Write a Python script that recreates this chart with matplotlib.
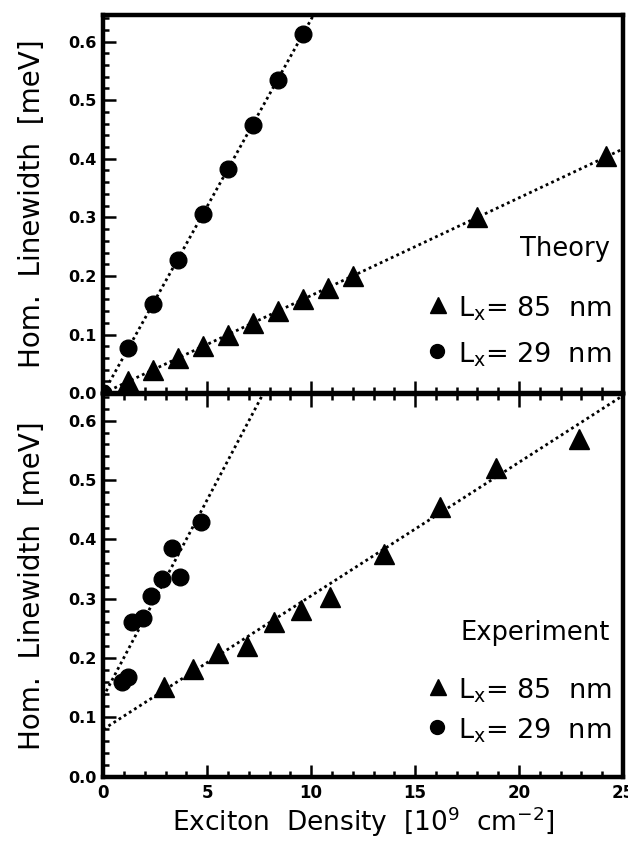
import numpy as np
import matplotlib
matplotlib.use("Agg")
import matplotlib.pyplot as plt
from matplotlib.ticker import MultipleLocator

# Theory (upper panel)
th_x_85 = [1.2, 2.4, 3.6, 4.8, 6.0, 7.2, 8.4, 9.6, 10.8, 12.0, 18.0, 24.2]
th_y_85 = [0.02, 0.04, 0.06, 0.08, 0.10, 0.12, 0.14, 0.16, 0.18, 0.20, 0.30, 0.405]
th_x_29 = [0.0, 1.2, 2.4, 3.6, 4.8, 6.0, 7.2, 8.4, 9.6]
th_y_29 = [0.0, 0.077, 0.152, 0.228, 0.305, 0.382, 0.458, 0.535, 0.613]

# Experiment (lower panel)
ex_x_85 = [2.9, 4.3, 5.5, 6.9, 8.2, 9.5, 10.9, 13.5, 16.2, 18.9, 22.9]
ex_y_85 = [0.151, 0.182, 0.208, 0.221, 0.260, 0.281, 0.303, 0.376, 0.454, 0.521, 0.570]
ex_x_29 = [0.9, 1.2, 1.4, 1.9, 2.3, 2.8, 3.3, 3.7, 4.7]
ex_y_29 = [0.160, 0.168, 0.260, 0.268, 0.305, 0.334, 0.385, 0.337, 0.430]

# linear fits drawn as dotted lines (intercept, slope)
th_fit_85 = (0.0, 0.01667)
th_fit_29 = (0.0, 0.0638)
ex_fit_85 = (0.08, 0.0225)
ex_fit_29 = (0.135, 0.0664)

xmin, xmax = 0, 25
ymin, ymax = 0, 0.645

fig = plt.figure(figsize=(6.28, 8.42), dpi=100)
ax_top = fig.add_axes([0.1645, 0.533, 0.8275, 0.449])
ax_bot = fig.add_axes([0.1645, 0.0775, 0.8275, 0.4545])

lab_font = "DejaVu Sans"
tick_font = "DejaVu Sans"
dots = (0, (1.0, 1.2))


def style_axis(ax, top_ticks):
    ax.set_xlim(xmin, xmax)
    ax.set_ylim(ymin, ymax)
    for s in ax.spines.values():
        s.set_linewidth(3.2)
    ax.xaxis.set_major_locator(MultipleLocator(5))
    ax.xaxis.set_minor_locator(MultipleLocator(1))
    ax.yaxis.set_major_locator(MultipleLocator(0.1))
    ax.yaxis.set_minor_locator(MultipleLocator(0.02))
    ax.tick_params(which="both", direction="in", top=top_ticks, right=False,
                   width=1.8, color="black")
    ax.tick_params(which="major", length=9)
    ax.tick_params(which="minor", length=4.5)
    ax.tick_params(axis="y", labelsize=11.5, pad=5)
    ax.tick_params(axis="x", labelsize=12, pad=5)
    ax.yaxis.set_major_formatter(plt.FuncFormatter(lambda v, p: f"{v:.1f}"))
    for t in ax.get_xticklabels() + ax.get_yticklabels():
        t.set_fontfamily(tick_font)
        t.set_fontweight("bold")
    ax.set_ylabel("Hom.  Linewidth  [meV]", fontsize=20, fontfamily=lab_font,
                  labelpad=16)


def draw_panel(ax, x85, y85, x29, y29, fit85, fit29):
    xs = np.array([xmin, xmax])
    ax.plot(xs, fit85[0] + fit85[1] * xs, color="black", lw=2.0, ls=dots)
    ax.plot(xs, fit29[0] + fit29[1] * xs, color="black", lw=2.0, ls=dots)
    ax.plot(x85, y85, ls="none", marker="^", ms=14.5, color="black", zorder=3)
    ax.plot(x29, y29, ls="none", marker="o", ms=12, color="black", zorder=3)


def draw_key(ax, title, y_title, y1, y2):
    ax.text(0.975, y_title, title, transform=ax.transAxes, ha="right",
            va="baseline", fontsize=18.5, fontfamily=lab_font)
    ax.plot([0.645], [y1 + 0.03], transform=ax.transAxes, marker="^", ms=12,
            color="black", clip_on=False)
    ax.plot([0.643], [y2 + 0.03], transform=ax.transAxes, marker="o", ms=10,
            color="black", clip_on=False)
    ax.text(0.683, y1, r"$\mathregular{L_x}$= 85  nm", transform=ax.transAxes,
            ha="left", va="baseline", fontsize=19.5, fontfamily=lab_font)
    ax.text(0.683, y2, r"$\mathregular{L_x}$= 29  nm", transform=ax.transAxes,
            ha="left", va="baseline", fontsize=19.5, fontfamily=lab_font)


draw_panel(ax_top, th_x_85, th_y_85, th_x_29, th_y_29, th_fit_85, th_fit_29)
draw_panel(ax_bot, ex_x_85, ex_y_85, ex_x_29, ex_y_29, ex_fit_85, ex_fit_29)
style_axis(ax_top, top_ticks=False)
style_axis(ax_bot, top_ticks=True)
ax_top.tick_params(labelbottom=False)

draw_key(ax_top, "Theory", 0.362, 0.203, 0.082)
draw_key(ax_bot, "Experiment", 0.357, 0.205, 0.100)

ax_bot.set_xlabel(r"Exciton  Density  [10$^{9}$  cm$^{-2}$]", fontsize=19,
                  fontfamily=lab_font, labelpad=2)

fig.savefig("out.png", dpi=100)
